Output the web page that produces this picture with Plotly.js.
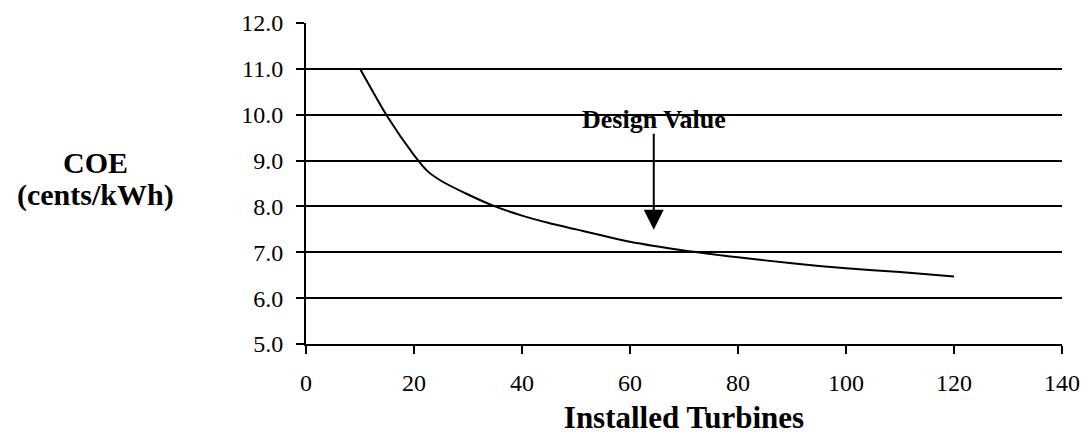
<!DOCTYPE html>
<html>
<head>
<meta charset="utf-8">
<script src="https://cdn.plot.ly/plotly-3.0.1.min.js"></script>
<style>
  html, body { margin: 0; padding: 0; background: #fff; }
  #chart { width: 1084px; height: 436px; }
</style>
</head>
<body>
<div id="chart"></div>
<script>
// Installed turbines vs cost of energy
const turbines = [10, 15, 20, 22.5, 25, 30, 35, 40, 45, 50, 60, 70, 80, 90, 100, 110, 120];
const coe      = [11.0, 9.97, 9.12, 8.77, 8.56, 8.26, 8.0, 7.8, 7.64, 7.5, 7.23, 7.04, 6.89, 6.76, 6.65, 6.57, 6.47];

const xTicks = [0, 20, 40, 60, 80, 100, 120, 140];
const yTicks = [5, 6, 7, 8, 9, 10, 11, 12];
const yTickLabels = ["5.0", "6.0", "7.0", "8.0", "9.0", "10.0", "11.0", "12.0"];

const yTitleLines = ["COE", "(cents/kWh)"];

const designLabel = "Design Value";
const designX = 64.4;
const designTipY = 7.49;
const designTailY = 9.62;
const designTextY = 9.9;

const FONT = 'Liberation Serif, Times New Roman, Times, serif';

const trace = {
  x: turbines,
  y: coe,
  type: 'scatter',
  mode: 'lines',
  line: { color: '#000', width: 2, shape: 'spline', smoothing: 0.6 },
  hoverinfo: 'skip',
  showlegend: false
};

const layout = {
  width: 1084,
  height: 436,
  margin: { l: 306, r: 22, t: 23, b: 92, pad: 0 },
  paper_bgcolor: '#fff',
  plot_bgcolor: '#fff',
  font: { family: FONT, color: '#000', size: 24 },
  showlegend: false,
  xaxis: {
    range: [0, 140],
    tickvals: xTicks,
    ticktext: xTicks.map(String),
    showgrid: false,
    zeroline: false,
    showline: true,
    linecolor: '#000',
    linewidth: 2,
    ticks: 'outside',
    ticklen: 8,
    tickwidth: 2,
    tickcolor: '#000',
    ticklabelstandoff: 8,
    tickfont: { family: FONT, size: 24, color: '#000' },
    title: { text: '<b>Installed Turbines</b>', font: { family: FONT, size: 31, color: '#000' }, standoff: 12 },
    fixedrange: true
  },
  yaxis: {
    range: [5, 12],
    tickvals: yTicks,
    ticktext: yTickLabels,
    showgrid: true,
    gridcolor: '#000',
    gridwidth: 2,
    zeroline: false,
    showline: true,
    linecolor: '#000',
    linewidth: 2,
    ticks: 'outside',
    ticklen: 8,
    tickwidth: 2,
    tickcolor: '#000',
    ticklabelstandoff: 8,
    tickfont: { family: FONT, size: 24, color: '#000' },
    fixedrange: true
  },
  annotations: [
    {
      xref: 'paper', yref: 'paper',
      x: -0.278, y: 0.564,
      xanchor: 'center', yanchor: 'middle',
      text: '<b>' + yTitleLines[0] + '</b>',
      showarrow: false,
      font: { family: FONT, size: 30, color: '#000' }
    },
    {
      xref: 'paper', yref: 'paper',
      x: -0.278, y: 0.463,
      xanchor: 'center', yanchor: 'middle',
      text: '<b>' + yTitleLines[1] + '</b>',
      showarrow: false,
      font: { family: FONT, size: 30, color: '#000' }
    },
    {
      xref: 'x', yref: 'y',
      x: designX, y: designTextY,
      xanchor: 'center', yanchor: 'middle',
      text: '<b>' + designLabel + '</b>',
      showarrow: false,
      font: { family: FONT, size: 26, color: '#000' }
    },
    {
      xref: 'x', yref: 'y', axref: 'x', ayref: 'y',
      x: designX, y: designTipY,
      ax: designX, ay: designTailY,
      text: '',
      showarrow: true,
      arrowhead: 2,
      arrowsize: 2,
      arrowwidth: 2,
      arrowcolor: '#000'
    }
  ]
};

Plotly.newPlot('chart', [trace], layout, { staticPlot: true, displayModeBar: false });
</script>
</body>
</html>
